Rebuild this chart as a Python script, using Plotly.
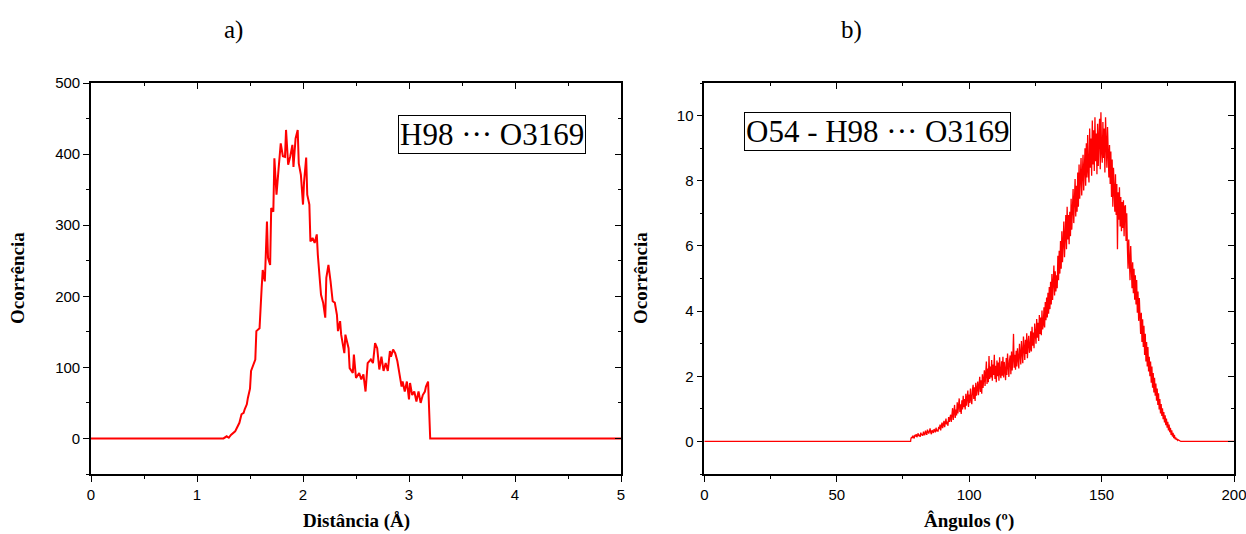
import numpy as np
import plotly.graph_objects as go

# ---- a) H98 ... O3169 distance distribution ----
dist_x = [0.00, 1.22, 1.25, 1.28, 1.30, 1.32, 1.34, 1.36, 1.37, 1.40,
          1.42, 1.44, 1.45, 1.47, 1.48, 1.50, 1.51, 1.53, 1.55, 1.56,
          1.59, 1.61, 1.62, 1.64, 1.66, 1.67, 1.69, 1.70, 1.72, 1.73,
          1.75, 1.77, 1.79, 1.81, 1.83, 1.84, 1.86, 1.88, 1.90, 1.91,
          1.93, 1.95, 1.96, 1.98, 2.00, 2.01, 2.03, 2.04, 2.06, 2.07,
          2.09, 2.11, 2.13, 2.14, 2.16, 2.17, 2.19, 2.21, 2.22, 2.24,
          2.26, 2.28, 2.30, 2.32, 2.33, 2.35, 2.36, 2.39, 2.40, 2.43,
          2.44, 2.47, 2.48, 2.50, 2.53, 2.55, 2.57, 2.59, 2.61, 2.64,
          2.66, 2.68, 2.70, 2.72, 2.74, 2.76, 2.78, 2.80, 2.82, 2.83,
          2.85, 2.87, 2.89, 2.91, 2.93, 2.94, 2.96, 2.98, 3.00, 3.01,
          3.03, 3.05, 3.07, 3.09, 3.11, 3.13, 3.15, 3.16, 3.18, 3.20,
          5.00]
dist_y = [0, 0, 0, 3, 1, 5, 8, 10, 13, 22,
          34, 36, 41, 48, 57, 70, 95, 102, 111, 151,
          155, 212, 237, 221, 305, 254, 244, 324, 319, 394,
          343, 380, 415, 397, 396, 434, 385, 397, 413, 382,
          422, 434, 387, 371, 329, 361, 395, 343, 329, 277,
          282, 275, 287, 258, 212, 202, 191, 170, 226, 244,
          221, 193, 191, 174, 151, 165, 146, 120, 146, 127,
          99, 92, 118, 85, 92, 83, 90, 66, 106, 111,
          106, 134, 127, 97, 115, 95, 106, 95, 123, 115,
          125, 120, 109, 90, 73, 80, 66, 80, 55, 78,
          61, 66, 52, 66, 50, 61, 66, 73, 80, 0,
          0]

# ---- b) O54 - H98 ... O3169 angle distribution (0.25 degree bins from 78) ----
ang_start = 78.0
ang_step = 0.25
ang_y = [
    0.08, 0.14, 0.10, 0.18, 0.12, 0.09, 0.20, 0.15, 0.22, 0.13, 0.18, 0.25, 0.16, 0.21, 0.14, 0.27, 0.19, 0.23, 0.17, 0.30,
    0.22, 0.19, 0.33, 0.26, 0.20, 0.36, 0.28, 0.24, 0.31, 0.40, 0.27, 0.22, 0.35, 0.30, 0.26, 0.38, 0.33, 0.28, 0.42, 0.31,
    0.36, 0.30, 0.45, 0.38, 0.52, 0.34, 0.47, 0.58, 0.41, 0.50, 0.63, 0.44, 0.56, 0.70, 0.52, 0.61, 0.48, 0.75, 0.60, 0.68,
    0.82, 0.60, 0.78, 1.02, 0.66, 0.90, 1.12, 0.72, 0.98, 0.80, 1.20, 0.86, 1.06, 1.32, 0.90, 1.14, 0.84, 1.26, 0.98, 1.40,
    1.05, 1.30, 0.98, 1.46, 1.10, 1.38, 1.56, 1.06, 1.44, 1.18, 1.62, 1.28, 1.14, 1.58, 1.74, 1.30, 1.66, 1.24, 1.80, 1.40,
    1.55, 1.84, 1.42, 1.74, 1.98, 1.52, 1.88, 1.46, 2.06, 1.64, 1.96, 2.18, 1.70, 2.08, 2.45, 1.76, 2.24, 1.82, 2.62, 1.92,
    2.30, 1.96, 2.50, 1.86, 2.36, 2.04, 2.66, 1.92, 2.32, 1.82, 2.48, 2.00, 2.42, 1.86, 2.58, 2.08, 1.94, 2.46, 2.02, 2.60,
    1.96, 2.44, 2.10, 1.88, 2.56, 2.04, 2.70, 2.14, 1.98, 2.50, 2.64, 2.06, 2.76, 2.18, 2.52, 3.30, 2.26, 2.66, 2.20, 2.78,
    2.30, 2.86, 2.44, 2.24, 3.00, 2.48, 2.36, 3.08, 2.56, 2.40, 3.22, 2.62, 2.50, 3.12, 2.68, 3.32, 2.55, 3.02, 3.24, 2.72,
    2.84, 3.38, 2.76, 3.52, 2.94, 3.34, 2.86, 3.62, 3.14, 3.00, 3.76, 3.18, 3.64, 3.08, 3.88, 3.30, 3.80, 3.26, 4.02, 3.44,
    3.58, 4.12, 3.50, 4.28, 3.72, 4.42, 3.80, 4.56, 3.92, 4.74, 4.06, 4.90, 4.20, 5.14, 4.34, 4.98, 5.40, 4.48, 5.22, 4.60,
    5.10, 4.70, 5.70, 4.95, 5.85, 5.15, 6.15, 5.30, 6.45, 5.50, 6.25, 6.75, 5.65, 6.60, 6.95, 5.90, 7.20, 6.20, 6.95, 6.05,
    7.05, 6.30, 7.45, 6.50, 7.30, 7.75, 6.70, 7.60, 8.05, 6.90, 7.85, 7.05, 8.25, 7.20, 8.50, 7.45, 8.30, 8.70, 7.55, 8.45,
    8.80, 7.70, 8.55, 9.00, 7.85, 9.15, 8.10, 9.40, 8.30, 7.95, 9.60, 8.40, 9.30, 8.15, 9.85, 8.50, 9.55, 8.30, 9.95, 8.60,
    9.45, 8.20, 9.75, 8.45, 9.35, 9.90, 8.35, 10.10, 8.90, 8.55, 9.80, 8.70, 9.60, 8.25, 9.95, 8.80, 8.40, 9.65, 8.60, 8.10,
    9.10, 7.90, 8.90, 7.50, 8.65, 7.20, 8.40, 7.40, 7.05, 8.20, 6.95, 7.90, 5.90, 7.65, 6.80, 7.80, 6.60, 7.50, 6.45, 7.35,
    6.55, 7.40, 6.30, 7.20, 7.25, 6.15, 7.00, 5.95, 5.30, 6.20, 5.40, 4.95, 6.00, 5.10, 4.70, 5.50, 4.55, 5.30, 4.35, 5.10,
    4.20, 4.95, 3.95, 4.60, 3.70, 4.40, 3.55, 3.30, 3.95, 3.05, 3.75, 2.90, 3.55, 2.65, 3.30, 2.45, 3.05, 2.30, 2.90, 2.15,
    2.60, 2.00, 2.45, 1.80, 2.30, 1.65, 2.10, 1.50, 1.95, 1.40, 1.78, 1.25, 1.62, 1.12, 1.48, 0.98, 1.30, 0.86, 1.15, 0.78,
    1.02, 0.68, 0.90, 0.58, 0.80, 0.50, 0.70, 0.42, 0.60, 0.34, 0.52, 0.28, 0.42, 0.20, 0.34, 0.15, 0.26, 0.10, 0.20, 0.07,
    0.12, 0.05, 0.08, 0.03, 0.05, 0.02, 0.02, 0.01, 0.00,
]
ang_x = [0.0, ang_start - 0.1] + list(ang_start + ang_step * np.arange(len(ang_y))) + [200.0]
ang_y = [0.0, 0.0] + ang_y + [0.0]

W, H = 1246, 534
RED = "#ff0000"
AX_FONT = dict(family="Liberation Sans, Arial, sans-serif", size=15, color="#000")
SERIF = "Liberation Serif, Times New Roman, serif"

dom_a = [91 / W, 621 / W]
dom_b = [704.3 / W, 1234 / W]
dom_y = [(H - 474) / H, (H - 83) / H]

fig = go.Figure()
fig.add_trace(go.Scatter(x=dist_x, y=dist_y, mode="lines",
                         line=dict(color=RED, width=2), xaxis="x", yaxis="y"))
fig.add_trace(go.Scatter(x=ang_x, y=ang_y, mode="lines",
                         line=dict(color=RED, width=1.3), xaxis="x2", yaxis="y2"))
# empty traces to carry the mirrored frame axes (ticks pointing inward)
fig.add_trace(go.Scatter(x=[], y=[], xaxis="x3", yaxis="y3"))
fig.add_trace(go.Scatter(x=[], y=[], xaxis="x4", yaxis="y4"))


def main_axis(rng, dtick, mdtick, domain, anchor):
    return dict(range=rng, domain=domain, anchor=anchor, automargin=False,
                ticklabeloverflow="allow",
                showgrid=False, zeroline=False, showline=True, linecolor="#000",
                linewidth=1.6, ticks="outside", ticklen=6, tickwidth=1.4,
                tickcolor="#000", dtick=dtick, tick0=0, tickfont=AX_FONT,
                minor=dict(dtick=mdtick, tick0=0, ticks="outside", ticklen=3,
                           tickwidth=1.2, tickcolor="#000", showgrid=False))


def frame_axis(rng, dtick, mdtick, domain, overlay, anchor, side):
    return dict(range=rng, domain=domain, overlaying=overlay, anchor=anchor,
                side=side, automargin=False, showgrid=False, zeroline=False,
                showline=True, linecolor="#000", linewidth=1.6, ticks="inside",
                ticklen=6, tickwidth=1.4, tickcolor="#000", dtick=dtick, tick0=0,
                showticklabels=False,
                minor=dict(dtick=mdtick, tick0=0, ticks="inside", ticklen=3,
                           tickwidth=1.2, tickcolor="#000", showgrid=False))


fig.update_layout(
    width=W, height=H,
    margin=dict(l=0, r=0, t=0, b=0, autoexpand=False),
    paper_bgcolor="white", plot_bgcolor="white",
    showlegend=False,
    xaxis=main_axis([0, 5], 1, 0.5, dom_a, "y"),
    yaxis=main_axis([-50, 500], 100, 50, dom_y, "x"),
    xaxis2=main_axis([0, 200], 50, 25, dom_b, "y2"),
    yaxis2=main_axis([-1, 11], 2, 1, dom_y, "x2"),
    xaxis3=frame_axis([0, 5], 1, 0.5, dom_a, "x", "y3", "top"),
    yaxis3=frame_axis([-50, 500], 100, 50, dom_y, "y", "x3", "right"),
    xaxis4=frame_axis([0, 200], 50, 25, dom_b, "x2", "y4", "top"),
    yaxis4=frame_axis([-1, 11], 2, 1, dom_y, "y2", "x4", "right"),
)


def px(x):
    return x / W


def py(y):
    return 1 - y / H


annotations = [
    dict(text="a)", x=px(233), y=py(30), font=dict(family=SERIF, size=25)),
    dict(text="b)", x=px(851), y=py(30), font=dict(family=SERIF, size=25)),
    dict(text="<b>Distância (Å)</b>", x=px(356), y=py(521),
         font=dict(family=SERIF, size=19)),
    dict(text="<b>Ângulos (º)</b>", x=px(969), y=py(521),
         font=dict(family=SERIF, size=19)),
    dict(text="<b>Ocorrência</b>", x=px(17), y=py(278), textangle=-90,
         font=dict(family=SERIF, size=19)),
    dict(text="<b>Ocorrência</b>", x=px(640), y=py(278), textangle=-90,
         font=dict(family=SERIF, size=19)),
    dict(text="H98 ··· O3169", x=px(492.5), y=py(134.5),
         font=dict(family=SERIF, size=31), bordercolor="#000", borderwidth=1,
         borderpad=1, bgcolor="white"),
    dict(text="O54 - H98 ··· O3169", x=px(877), y=py(131.5),
         font=dict(family=SERIF, size=31), bordercolor="#000", borderwidth=1,
         borderpad=1, bgcolor="white"),
]
for a in annotations:
    a.update(xref="paper", yref="paper", showarrow=False,
             xanchor="center", yanchor="middle")
    a["font"]["color"] = "#000"
fig.update_layout(annotations=annotations)

fig.write_html("out.html")
